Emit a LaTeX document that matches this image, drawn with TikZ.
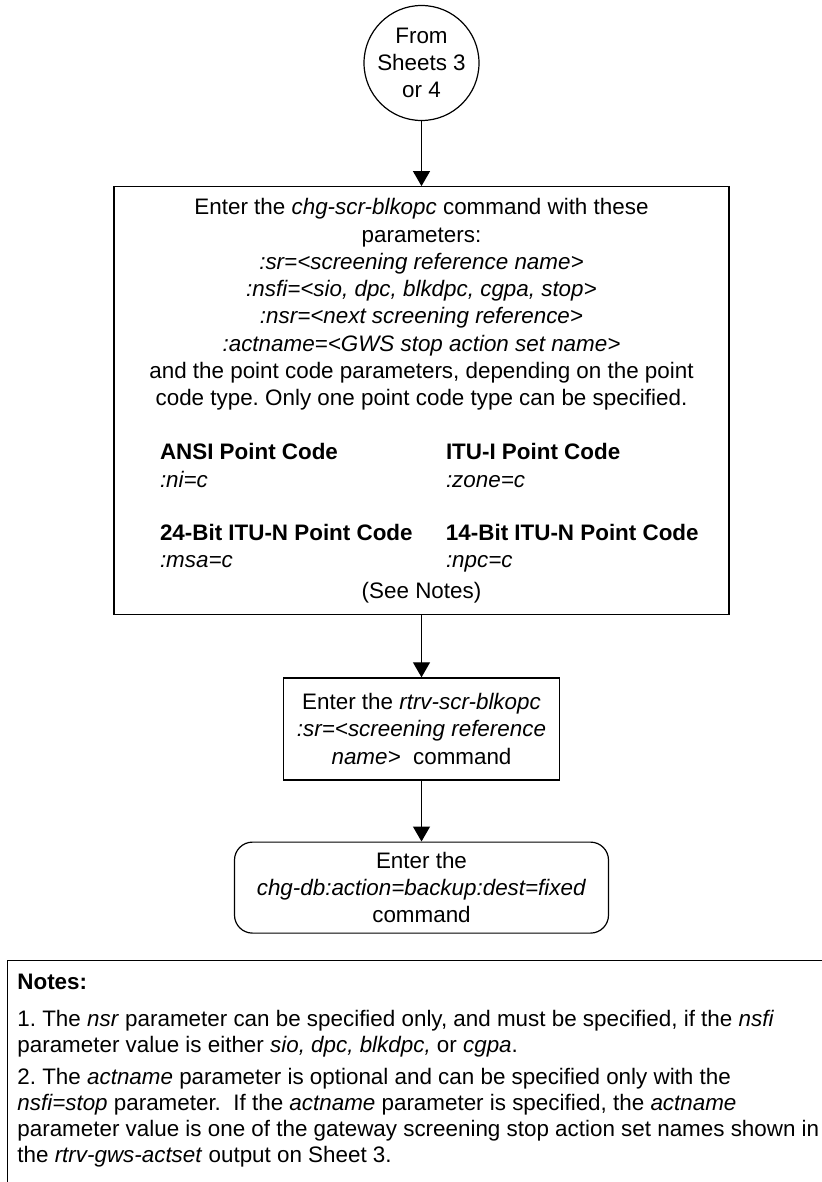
\documentclass[tikz,border=0pt]{standalone}
\usepackage{fontspec}
\setmainfont{Liberation Sans}
\usepackage{tikz}
\usetikzlibrary{arrows.meta,positioning}
\frenchspacing
\tikzset{
  flowcircle/.style={
    circle,
    draw=black,
    line width=0.6pt,
    minimum size=57.5pt,
    inner sep=0pt,
    align=center,
    font=\fontsize{11.2}{13.65}\selectfont
  },
  flowbox/.style={
    rectangle,
    draw=black,
    line width=0.6pt,
    inner sep=0pt,
    align=center,
    font=\fontsize{11.2}{13.65}\selectfont
  },
  endbox/.style={
    flowbox,
    rounded corners=9pt
  },
  noteframe/.style={
    rectangle,
    draw=black,
    line width=0.6pt,
    anchor=north west,
    minimum width=440pt,
    minimum height=140pt
  },
  notetext/.style={
    anchor=north west,
    align=left,
    inner sep=0pt,
    font=\fontsize{11.2}{13}\selectfont
  },
  arrow/.style={
    -{Triangle[length=7.5pt,width=8.5pt]},
    line width=0.6pt,
    draw=black
  }
}

\begin{document}
\begin{tikzpicture}
  \useasboundingbox (0pt,0pt) rectangle (410.5pt,-591pt);
  \node[flowcircle] (from) at (210.75pt,-31.5pt) {From\\Sheets 3\\or 4};
  \node[flowbox, minimum width=307.5pt, minimum height=214pt, below=32.5pt of from] (chgscr) {Enter the \textit{chg-scr-blkopc} command with these\\
    parameters:\\
    \textit{:sr=<screening reference name>}\\
    \textit{:nsfi=<sio, dpc, blkdpc, cgpa, stop>}\\
    \textit{:nsr=<next screening reference>}\\
    \textit{:actname=<GWS stop action set name>}\\
    and the point code parameters, depending on the point\\
    code type. Only one point code type can be specified.\\[13.35pt]
    \hspace*{9.5pt}\begin{tabular}[t]{@{}p{143pt}@{}p{128pt}@{}}
      \textbf{ANSI Point Code} & \textbf{ITU-I Point Code}\\
      \textit{:ni=c} & \textit{:zone=c}\\[13pt]
      \textbf{24-Bit ITU-N Point Code} & \textbf{14-Bit ITU-N Point Code}\\
      \textit{:msa=c} & \textit{:npc=c}
    \end{tabular}\\[2pt]
    (See Notes)};
  \node[flowbox, minimum width=138pt, minimum height=51pt, below=31pt of chgscr] (rtrvscr) {Enter the \textit{rtrv-scr-blkopc}\\
    \textit{:sr=<screening reference}\\
    \textit{name>}~ command};
  \node[endbox, minimum width=187pt, minimum height=45.5pt, below=30.5pt of rtrvscr] (chgdb) {Enter the\\
    \textit{chg-db:action=backup:dest=fixed}\\
    command};
  \node[noteframe] (noteframe) at (3.5pt,-480pt) {};
  \node[notetext] (notes) at ([xshift=5pt,yshift=-7pt]noteframe.north west) {\textbf{Notes:}\\[5.5pt]
    1. The \textit{nsr} parameter can be specified only, and must be specified, if the \textit{nsfi}\\
    parameter value is either \textit{sio, dpc, blkdpc,} or \textit{cgpa}.\\[3pt]
    2. The \textit{actname} parameter is optional and can be specified only with the\\
    \textit{nsfi=stop} parameter.\ \ If the \textit{actname} parameter is specified, the \textit{actname}\\
    parameter value is one of the gateway screening stop action set names shown in\\
    the \textit{rtrv-gws-actset} output on Sheet 3.};
  \foreach \a/\b in {from/chgscr,chgscr/rtrvscr,rtrvscr/chgdb} {
    \draw[arrow] (\a) -- (\b);
  }
\end{tikzpicture}
\end{document}
